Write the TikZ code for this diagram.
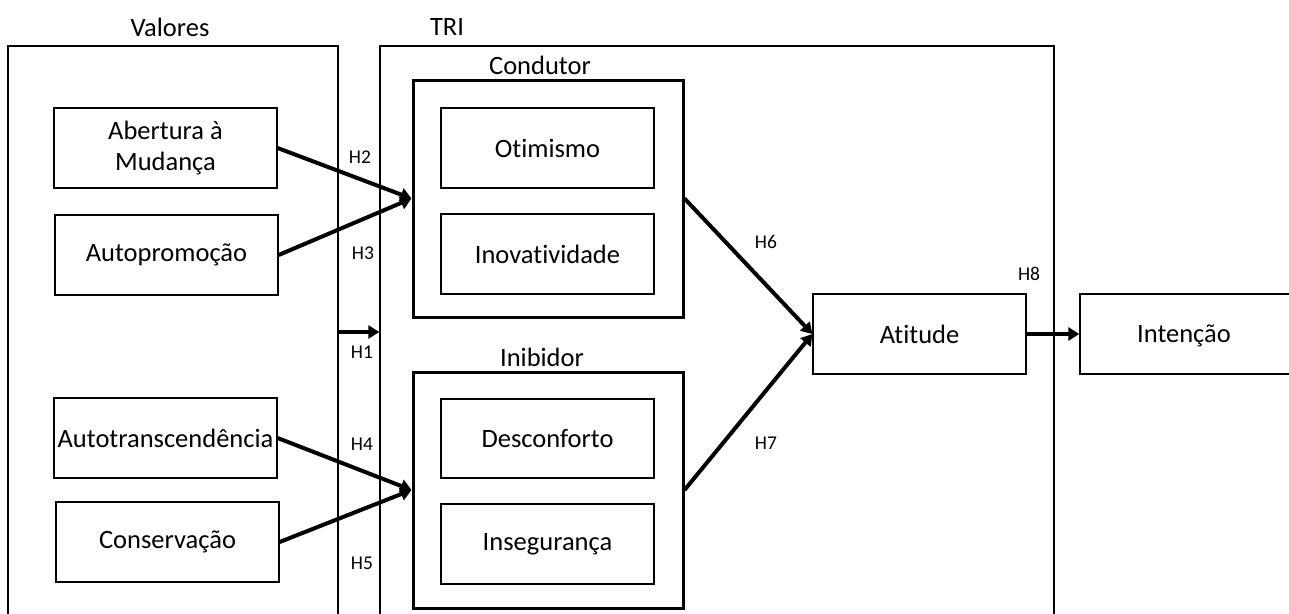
\documentclass[tikz,border=0pt]{standalone}
\usepackage{fontspec}
\setmainfont{Carlito}[Ligatures=NoCommon]
\usetikzlibrary{arrows.meta}
\begin{document}
\begin{tikzpicture}[x=1pt,y=-1pt,
  thinbox/.style={draw, line width=1.3pt, inner sep=0pt, align=center, font=\fontsize{26.5}{31}\selectfont},
  groupbox/.style={draw, line width=3pt, inner sep=0pt},
  outerbox/.style={draw, line width=1.3pt, inner sep=0pt},
  title/.style={font=\fontsize{26.5}{31}\selectfont, inner sep=0pt},
  hlabel/.style={font=\fontsize{19.5}{23}\selectfont, inner sep=0pt},
  link/.style={line width=4pt, -{Triangle[length=11pt,width=13pt]}}]
\useasboundingbox (0,0) rectangle (1289,613);
\clip (0,0) rectangle (1289,613);
% outer frames
\node[outerbox, minimum width=330pt, minimum height=594pt] (valores) at (173,343) {};
\node[outerbox, minimum width=674pt, minimum height=594pt] (tri) at (717,343) {};
\node[title] (tvalores) at (170,27) {Valores};
\node[title] (ttri) at (447,27) {TRI};
% groups
\node[groupbox, minimum width=270pt, minimum height=237pt] (condutor) at (548,198.5) {};
\node[groupbox, minimum width=270pt, minimum height=236pt] (inibidor) at (548,490) {};
\node[title] (tcondutor) at (540,65) {Condutor};
\node[title] (tinibidor) at (542,357) {Inibidor};
% inner boxes
\node[thinbox, minimum width=213pt, minimum height=80pt] (otimismo) at (547.5,148) {Otimismo};
\node[thinbox, minimum width=213pt, minimum height=80pt] (inovatividade) at (547.5,254) {Inovatividade};
\node[thinbox, minimum width=213pt, minimum height=79pt] (desconforto) at (547.5,438.5) {Desconforto};
\node[thinbox, minimum width=213pt, minimum height=80pt] (inseguranca) at (547.5,544) {Insegurança};
% value boxes
\node[thinbox, minimum width=223pt, minimum height=80pt] (abertura) at (165.5,148) {Abertura à\\Mudança};
\node[thinbox, minimum width=223pt, minimum height=80pt] (autopromocao) at (166.5,255) {Autopromoção};
\node[thinbox, minimum width=223pt, minimum height=80pt] (autotrans) at (165.5,438) {Autotranscendência};
\node[thinbox, minimum width=223pt, minimum height=80pt] (conservacao) at (167.5,542) {Conservação};
% outcome boxes
\node[thinbox, minimum width=213pt, minimum height=80pt] (atitude) at (919.5,334) {Atitude};
\node[thinbox, text depth=0pt, minimum width=240pt, minimum height=80pt] (intencao) at (1200,334) {\makebox[0pt]{\hspace*{-32pt}Intenção}};
% connectors
\coordinate (h1s) at (valores.east |- 0,332);
\coordinate (h1e) at (tri.west |- 0,332);
\draw[link] (abertura.east) -- (condutor.west);
\draw[link] (autopromocao.east) -- (condutor.west);
\draw[link] (h1s) -- (h1e);
\draw[link] (autotrans.east) -- (inibidor.west);
\draw[link] (conservacao.east) -- (inibidor.west);
\draw[link] (condutor.east) -- (atitude.west);
\draw[link] (inibidor.east) -- (atitude.west);
\draw[link] (atitude.east) -- (intencao.west);
% labels
\node[hlabel] (lh2) at (360,157) {H2};
\node[hlabel] (lh3) at (363,253) {H3};
\node[hlabel] (lh1) at (362,352) {H1};
\node[hlabel] (lh4) at (362,444) {H4};
\node[hlabel] (lh5) at (362,563) {H5};
\node[hlabel] (lh6) at (766,242) {H6};
\node[hlabel] (lh7) at (766,443) {H7};
\node[hlabel] (lh8) at (1029,274) {H8};
\end{tikzpicture}
\end{document}
